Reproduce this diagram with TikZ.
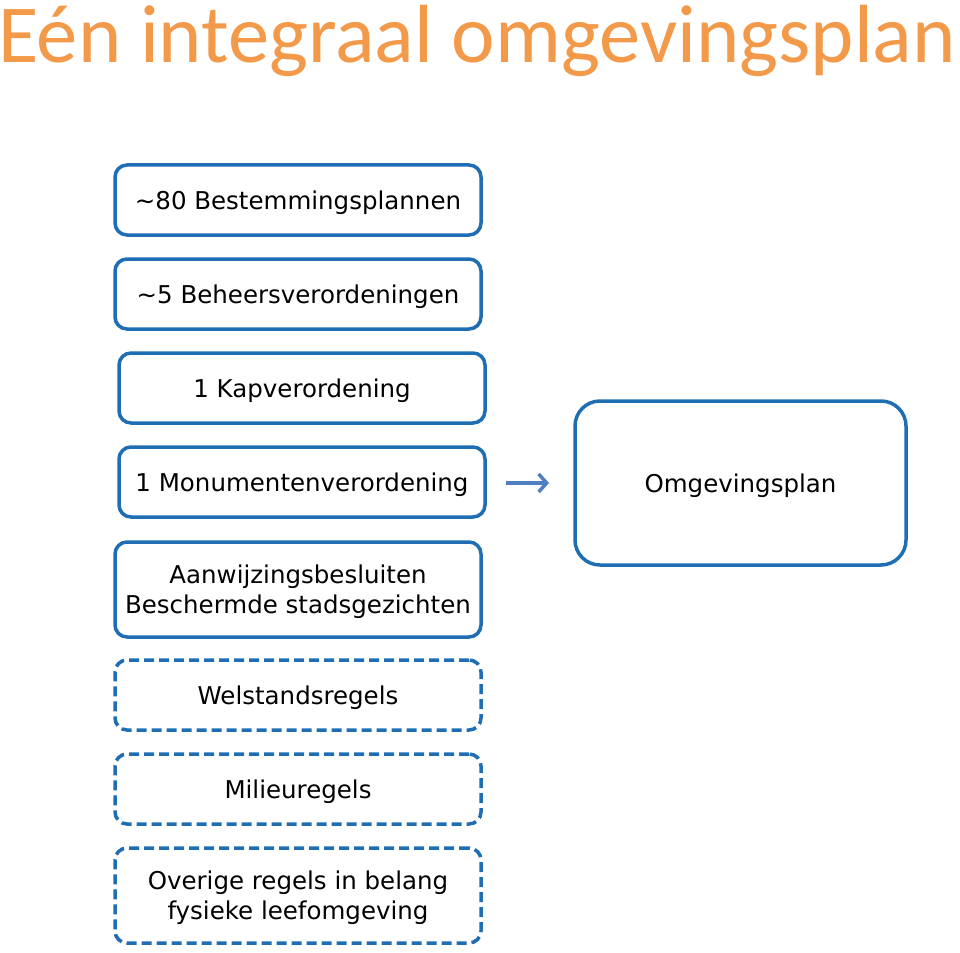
\documentclass[tikz,border=0pt]{standalone}
\usepackage{fontspec}
\setmainfont{DejaVu Sans}
\newfontfamily\titlefont{Carlito}
\definecolor{boxblue}{HTML}{1F6EB4}
\definecolor{arrowblue}{HTML}{4F7FC0}
\definecolor{titleorange}{HTML}{F39A4A}
\usetikzlibrary{arrows.meta}
\begin{document}
\begin{tikzpicture}[x=1pt,y=-1pt,
  rulebox/.style={draw=boxblue,line width=3.5pt,rounded corners=12pt,minimum width=366pt,minimum height=70pt,align=center,font=\fontsize{24.5}{30}\selectfont,inner sep=0pt,text depth=0pt},
  dashbox/.style={rulebox,dash pattern=on 10pt off 5pt},
  planbox/.style={draw=boxblue,line width=3.5pt,rounded corners=25pt,minimum width=331pt,minimum height=164pt,font=\fontsize{24.5}{30}\selectfont,inner sep=0pt,text depth=0pt}]
\useasboundingbox (0,0) rectangle (960,952);
\node[font=\titlefont\fontsize{82.5}{90}\selectfont,text=titleorange,anchor=base west,inner sep=0pt] (title) at (-2,63) {Eén integraal omgevingsplan};
\node[rulebox] (b1) at (298,200) {\textasciitilde80 Bestemmingsplannen};
\node[rulebox] (b2) at (298,294) {\textasciitilde5 Beheersverordeningen};
\node[rulebox] (b3) at (302,388) {1 Kapverordening};
\node[rulebox] (b4) at (302,482) {1 Monumentenverordening};
\node[rulebox,minimum height=95pt] (b5) at (298,589.5) {Aanwijzingsbesluiten\\Beschermde stadsgezichten};
\node[dashbox] (b6) at (298,695) {Welstandsregels};
\node[dashbox] (b7) at (298,789) {Milieuregels};
\node[dashbox,minimum height=95pt] (b8) at (298,895.5) {Overige regels in belang\\fysieke leefomgeving};
\node[planbox] (plan) at (740.5,483) {Omgevingsplan};
\coordinate (as) at (506,483);
\coordinate (ae) at (549,483);
\draw[arrowblue,line width=3.5pt,-{Straight Barb[length=8pt,width=18pt]}] (as) -- (ae);
\end{tikzpicture}
\end{document}
